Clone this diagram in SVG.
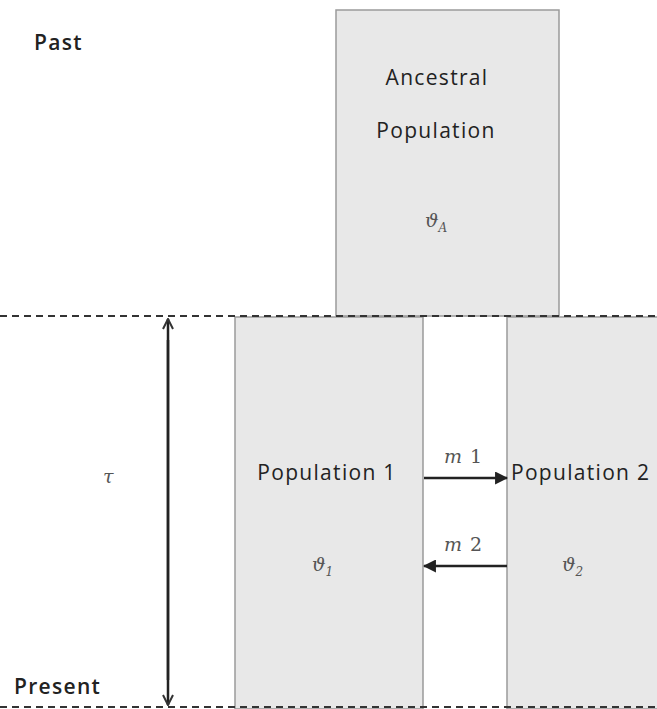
<svg xmlns="http://www.w3.org/2000/svg" width="657" height="709" viewBox="0 0 657 709">
<style>
.box{fill:#e8e8e8;stroke:#9a9a9a;stroke-width:1.5}
.t{font-family:"Open Sans","Liberation Sans",sans-serif;font-size:21px;fill:#222;letter-spacing:1.3px}
.g{font-family:"DejaVu Serif","Liberation Serif",serif;font-size:19px;fill:#555;font-style:italic}
.dash{stroke:#333;stroke-width:2;stroke-dasharray:7,5;fill:none}
.ar{stroke:#222;stroke-width:2.5;fill:none}
</style>
<defs>
<marker id="open" viewBox="0 0 12 12" refX="11" refY="6" markerWidth="12" markerHeight="12" markerUnits="userSpaceOnUse" orient="auto">
<path d="M1,1 L11,6 L1,11" fill="none" stroke="#333" stroke-width="2"/>
</marker>
<marker id="solid" viewBox="0 0 12 12" refX="11" refY="6" markerWidth="13" markerHeight="13" markerUnits="userSpaceOnUse" orient="auto">
<path d="M0,0 L12,6 L0,12 Z" fill="#222"/>
</marker>
</defs>
<rect width="657" height="709" fill="#fff"/>
<g id="ancestral">
<rect class="box" x="336" y="10" width="223" height="306"/>
<text class="t" x="437" y="85" text-anchor="middle" letter-spacing="2">Ancestral</text>
<text class="t" x="436" y="138" text-anchor="middle">Population</text>
<text class="g" x="425" y="227">ϑ<tspan font-size="12" dy="5">A</tspan></text>
</g>
<g id="pop1">
<rect class="box" x="235" y="317" width="188" height="392"/>
<text class="t" x="327" y="480" text-anchor="middle">Population 1</text>
<text class="g" x="312" y="571">ϑ<tspan font-size="12" dy="5">1</tspan></text>
</g>
<g id="pop2">
<rect class="box" x="507" y="317" width="152" height="392"/>
<text class="t" x="511" y="480">Population 2</text>
<text class="g" x="562" y="571">ϑ<tspan font-size="12" dy="5">2</tspan></text>
</g>
<g id="labels">
<text class="t" x="34" y="50" font-size="19" font-weight="600" letter-spacing="0.5">Past</text>
<text class="t" x="14" y="694" font-size="19" font-weight="600" letter-spacing="1">Present</text>
<text class="g" x="103" y="483" font-size="16">τ</text>
<text class="g" x="444" y="463" font-size="14">m<tspan font-style="normal" dx="8">1</tspan></text>
<text class="g" x="444" y="551" font-size="14">m<tspan font-style="normal" dx="8">2</tspan></text>
</g>
<g id="connectors">
<line class="dash" x1="0" y1="316" x2="657" y2="316"/>
<line class="dash" x1="0" y1="707" x2="657" y2="707" stroke-width="1.5"/>
<line class="ar" x1="168" y1="680" x2="168" y2="319" marker-end="url(#open)"/>
<line class="ar" x1="168" y1="340" x2="168" y2="705" marker-end="url(#open)"/>
<line class="ar" x1="424" y1="478" x2="507" y2="478" marker-end="url(#solid)"/>
<line class="ar" x1="507" y1="566" x2="424" y2="566" marker-end="url(#solid)"/>
</g>
</svg>
